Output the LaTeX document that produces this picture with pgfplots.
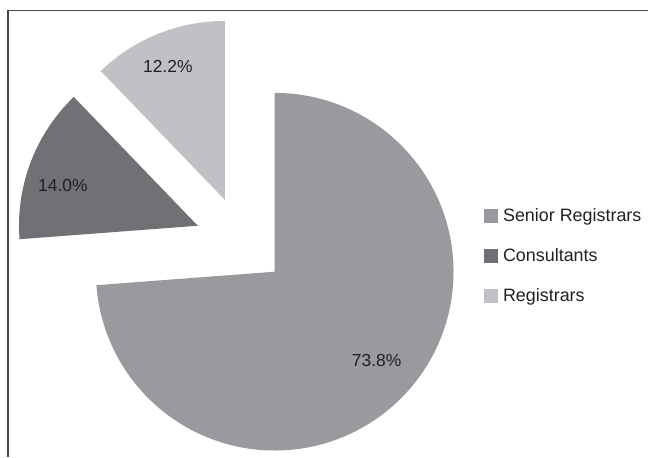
\documentclass[border=0pt]{standalone}
\usepackage{fontspec}
\setmainfont{Liberation Sans}
\usepackage{pgfplots}
\usepackage{pgfplotstable}
\pgfplotsset{compat=1.18}
\definecolor{cSenior}{RGB}{153,154,158}
\definecolor{cCons}{RGB}{112,113,117}
\definecolor{cReg}{RGB}{192,193,197}
\definecolor{cText}{RGB}{35,31,32}
\definecolor{cFrame}{RGB}{70,70,70}

% name, share (%), explode offset of apex (dx,dy), label position
\pgfplotstableread[col sep=comma]{
name,value,dx,dy,lx,ly
Senior Registrars,73.8,0,0,377,96
Consultants,14.0,-77,46,63,271
Registrars,12.2,-50,72,168,390
}\piedata

\pgfplotstablegetelem{0}{value}\of\piedata \let\vA\pgfplotsretval
\pgfplotstablegetelem{1}{value}\of\piedata \let\vB\pgfplotsretval
\pgfplotstablegetelem{2}{value}\of\piedata \let\vC\pgfplotsretval
\pgfplotstablegetelem{0}{dx}\of\piedata \let\dxA\pgfplotsretval
\pgfplotstablegetelem{1}{dx}\of\piedata \let\dxB\pgfplotsretval
\pgfplotstablegetelem{2}{dx}\of\piedata \let\dxC\pgfplotsretval
\pgfplotstablegetelem{0}{dy}\of\piedata \let\dyA\pgfplotsretval
\pgfplotstablegetelem{1}{dy}\of\piedata \let\dyB\pgfplotsretval
\pgfplotstablegetelem{2}{dy}\of\piedata \let\dyC\pgfplotsretval
\pgfplotstablegetelem{0}{lx}\of\piedata \let\lxA\pgfplotsretval
\pgfplotstablegetelem{1}{lx}\of\piedata \let\lxB\pgfplotsretval
\pgfplotstablegetelem{2}{lx}\of\piedata \let\lxC\pgfplotsretval
\pgfplotstablegetelem{0}{ly}\of\piedata \let\lyA\pgfplotsretval
\pgfplotstablegetelem{1}{ly}\of\piedata \let\lyB\pgfplotsretval
\pgfplotstablegetelem{2}{ly}\of\piedata \let\lyC\pgfplotsretval

\def\cx{275}\def\cy{185}\def\rad{179bp}
\pgfmathsetmacro{\aZ}{90}
\pgfmathsetmacro{\aA}{\aZ-3.6*\vA}
\pgfmathsetmacro{\aB}{\aA-3.6*\vB}
\pgfmathsetmacro{\aC}{\aB-3.6*\vC}
\pgfmathsetmacro{\cxA}{\cx+\dxA}\pgfmathsetmacro{\cyA}{\cy+\dyA}
\pgfmathsetmacro{\cxB}{\cx+\dxB}\pgfmathsetmacro{\cyB}{\cy+\dyB}
\pgfmathsetmacro{\cxC}{\cx+\dxC}\pgfmathsetmacro{\cyC}{\cy+\dyC}

\begin{document}
\begin{tikzpicture}
\begin{axis}[
  scale only axis, width=649bp, height=457bp,
  xmin=0, xmax=649, ymin=0, ymax=457,
  hide axis, clip=false,
  legend cell align=left,
  legend image code/.code={\fill[#1] (0bp,-6.5bp) rectangle (13bp,6.5bp); \path (0bp,0bp) (17bp,0bp);},
  legend style={draw=none, fill=none, at={(axis cs:484,201)}, anchor=west,
    font=\fontsize{18}{21}\selectfont, text=cText, row sep=22bp,
    inner sep=0pt},
]
\path (axis cs:0,0) rectangle (axis cs:649,457);
\draw[cFrame, line width=1.4bp] (axis cs:8,0) -- (axis cs:8,446.5) -- (axis cs:649,446.5);
\fill[cSenior] (axis cs:\cxA,\cyA) -- ++(\aZ:\rad) arc[start angle=\aZ, end angle=\aA, radius=\rad] -- cycle;
\fill[cCons] (axis cs:\cxB,\cyB) -- ++(\aA:\rad) arc[start angle=\aA, end angle=\aB, radius=\rad] -- cycle;
\fill[cReg] (axis cs:\cxC,\cyC) -- ++(\aB:\rad) arc[start angle=\aB, end angle=\aC, radius=\rad] -- cycle;
\node[font=\fontsize{17.5}{20}\selectfont, text=cText] at (axis cs:\lxA,\lyA) {\vA\%};
\node[font=\fontsize{17.5}{20}\selectfont, text=cText] at (axis cs:\lxB,\lyB) {\vB\%};
\node[font=\fontsize{17.5}{20}\selectfont, text=cText] at (axis cs:\lxC,\lyC) {\vC\%};
\addlegendimage{cSenior}\addlegendentry{Senior Registrars}
\addlegendimage{cCons}\addlegendentry{Consultants}
\addlegendimage{cReg}\addlegendentry{Registrars}
\end{axis}
\end{tikzpicture}
\end{document}
